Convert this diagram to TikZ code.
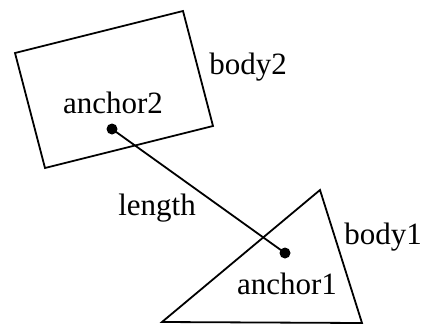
\documentclass[tikz,border=0pt]{standalone}
\usepackage{fontspec}
\setmainfont{Liberation Serif}
\begin{document}
\begin{tikzpicture}[x=1pt,y=-1pt,
  body/.style={draw,line width=1.8pt,line join=miter},
  lbl/.style={font=\fontsize{31}{36}\selectfont,inner sep=0pt},
  dot/.style={circle,fill=black,inner sep=0pt,minimum size=11pt}]
\useasboundingbox (0,0) rectangle (423,325);
% body2 rectangle
\coordinate (r1) at (15,53);
\coordinate (r2) at (183,11);
\coordinate (r3) at (213,126);
\coordinate (r4) at (45,168);
\draw[body] (r1) -- (r2) -- (r3) -- (r4) -- cycle;
% body1 triangle
\coordinate (t1) at (320,190);
\coordinate (t2) at (362,323);
\coordinate (t3) at (162,322);
\draw[body] (t1) -- (t2) -- (t3) -- cycle;
% anchors
\node[dot] (a2) at (112,129) {};
\node[dot] (a1) at (285,253) {};
\draw[line width=1.8pt] (a2.center) -- (a1.center);
% labels
\node[lbl] (l2) at (113,103) {anchor2};
\node[lbl] (l1) at (287,284) {anchor1};
\node[lbl] (b2) at (248,67) {body2};
\node[lbl] (b1) at (383,237) {body1};
\node[lbl] (len) at (157,208) {length};
\end{tikzpicture}
\end{document}
